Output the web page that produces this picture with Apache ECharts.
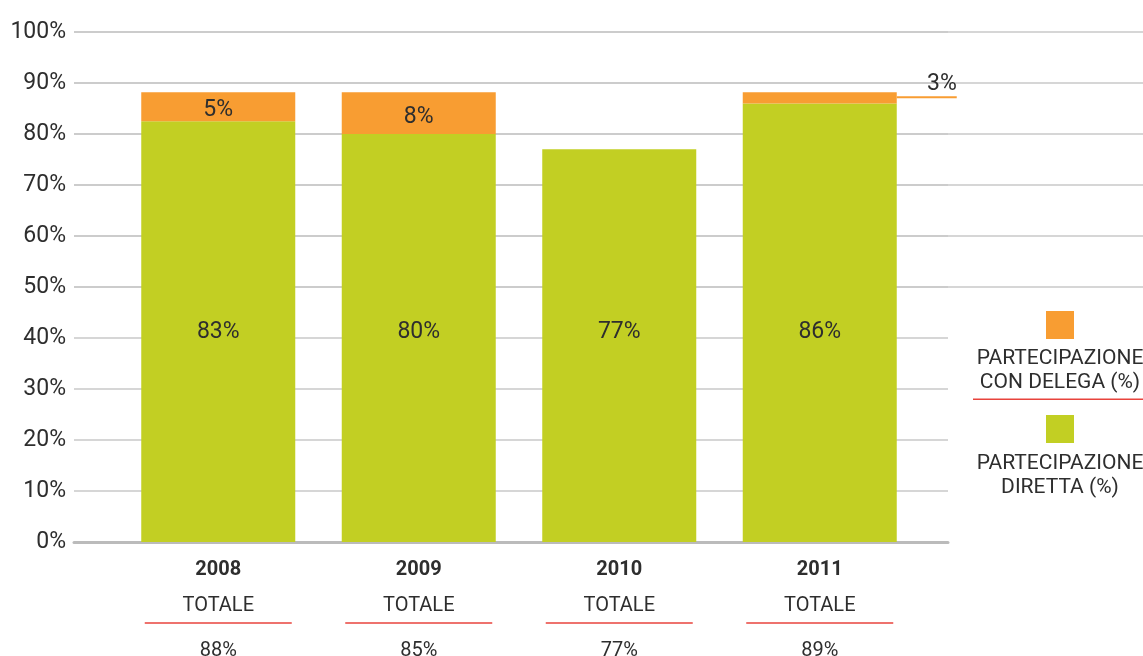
<!DOCTYPE html>
<html>
<head>
<meta charset="utf-8">
<script src="https://cdn.jsdelivr.net/npm/echarts@6/dist/echarts.min.js"></script>
<style>
  html, body { margin: 0; padding: 0; background: #fff; }
  #chart { width: 1143px; height: 656px; }
</style>
</head>
<body>
<div id="chart"></div>
<script>
// dati
const years = ['2008', '2009', '2010', '2011'];
const diretta = [82.5, 80, 77, 86];
const delega = [5.7, 8.2, 0, 2.2];
const direttaLabels = ['83%', '80%', '77%', '86%'];
const delegaLabels = ['5%', '8%', '', '3%'];
const totali = ['88%', '85%', '77%', '89%'];

const green = '#c2cf23';
const orange = '#f89d32';
const red = '#e8433c';
const grid = '#c8c8c8';
const txt = '#2e2e2e';
const font = 'Roboto';

let chart = echarts.init(document.getElementById('chart'));

let delegaData = delega.map(function (v, i) {
  // il 3% del 2011 sta fuori dalla barra, con la lineetta
  if (i === 3) {
    return {
      value: v,
      label: {
        show: true,
        position: 'right',
        distance: 0,
        offset: [0, -12.5],
        formatter: '{t|' + delegaLabels[i] + '}\n{l| }',
        rich: {
          t: { width: 60, align: 'right', fontSize: 23, lineHeight: 24, color: txt, fontFamily: font },
          l: { width: 60, height: 2, lineHeight: 2, fontSize: 1, backgroundColor: orange }
        }
      }
    };
  }
  return v;
});

let opts = {
  animation: false,
  grid: [
    // righe 50-100 a tutta larghezza
    { left: 74, right: 0, top: 32, bottom: 369, outerBoundsMode: 'none' },
    // righe 0-100 fino alla legenda
    { left: 74, right: 195, top: 32, bottom: 114, outerBoundsMode: 'none' },
    // barre
    { left: 118, right: 223, top: 32, bottom: 114, outerBoundsMode: 'none' }
  ],
  xAxis: [
    {
      type: 'category',
      gridIndex: 2,
      data: years,
      axisLine: { show: false },
      axisTick: { show: false },
      axisLabel: {
        margin: 8,
        color: txt,
        fontFamily: font,
        formatter: function (v, i) {
          return '{y|' + v + '}\n{t|TOTALE}\n{l| }\n{v|' + totali[i] + '}';
        },
        rich: {
          y: { fontSize: 20, fontWeight: 'bold', lineHeight: 40, color: txt, fontFamily: font },
          t: { fontSize: 20, lineHeight: 32, color: txt, fontFamily: font },
          l: { width: 147, height: 1.5, lineHeight: 2, fontSize: 1, backgroundColor: red },
          v: { fontSize: 20, lineHeight: 54, color: txt, fontFamily: font }
        }
      }
    },
    {
      type: 'value',
      gridIndex: 1,
      min: 0,
      max: 1,
      axisLabel: { show: false },
      axisTick: { show: false },
      splitLine: { show: false },
      axisLine: { show: true, lineStyle: { color: '#bbbbbb', width: 3 } }
    },
    {
      type: 'value',
      gridIndex: 0,
      min: 0,
      max: 1,
      show: false
    }
  ],
  yAxis: [
    {
      type: 'value',
      gridIndex: 2,
      min: 0,
      max: 100,
      show: false
    },
    {
      type: 'value',
      gridIndex: 1,
      min: 0,
      max: 100,
      interval: 10,
      axisLine: { show: false },
      axisTick: { show: false },
      axisLabel: {
        margin: 8,
        fontSize: 23,
        color: txt,
        fontFamily: font,
        formatter: '{value}%'
      },
      splitLine: { lineStyle: { color: grid, width: 1.5 } }
    },
    {
      type: 'value',
      gridIndex: 0,
      min: 50,
      max: 100,
      interval: 10,
      axisLine: { show: false },
      axisTick: { show: false },
      axisLabel: { show: false },
      splitLine: { lineStyle: { color: grid, width: 1.5 } }
    }
  ],
  series: [
    {
      name: 'PARTECIPAZIONE DIRETTA (%)',
      type: 'bar',
      stack: 'tot',
      xAxisIndex: 0,
      yAxisIndex: 0,
      barWidth: 154,
      itemStyle: { color: green },
      label: {
        show: true,
        position: 'insideBottom',
        distance: 198,
        fontSize: 23,
        color: txt,
        fontFamily: font,
        formatter: function (p) { return direttaLabels[p.dataIndex]; }
      },
      data: diretta
    },
    {
      name: 'PARTECIPAZIONE CON DELEGA (%)',
      type: 'bar',
      stack: 'tot',
      xAxisIndex: 0,
      yAxisIndex: 0,
      barWidth: 154,
      itemStyle: { color: orange },
      label: {
        show: true,
        position: 'inside',
        offset: [0, 4],
        fontSize: 23,
        color: txt,
        fontFamily: font,
        formatter: function (p) { return delegaLabels[p.dataIndex]; }
      },
      data: delegaData
    }
  ],
  // legenda disegnata a mano
  graphic: [
    { type: 'rect', shape: { x: 1046, y: 311, width: 28, height: 28 }, style: { fill: orange } },
    {
      type: 'text',
      style: {
        text: 'PARTECIPAZIONE\nCON DELEGA (%)',
        x: 1060, y: 347,
        align: 'center',
        fontSize: 21, lineHeight: 24, fontFamily: font,
        fill: txt
      }
    },
    { type: 'rect', shape: { x: 973, y: 398.5, width: 170, height: 1.5 }, style: { fill: red } },
    { type: 'rect', shape: { x: 1046, y: 415, width: 28, height: 28 }, style: { fill: green } },
    {
      type: 'text',
      style: {
        text: 'PARTECIPAZIONE\nDIRETTA (%)',
        x: 1060, y: 452,
        align: 'center',
        fontSize: 21, lineHeight: 24, fontFamily: font,
        fill: txt
      }
    }
  ]
};

chart.setOption(opts);
</script>
</body>
</html>
